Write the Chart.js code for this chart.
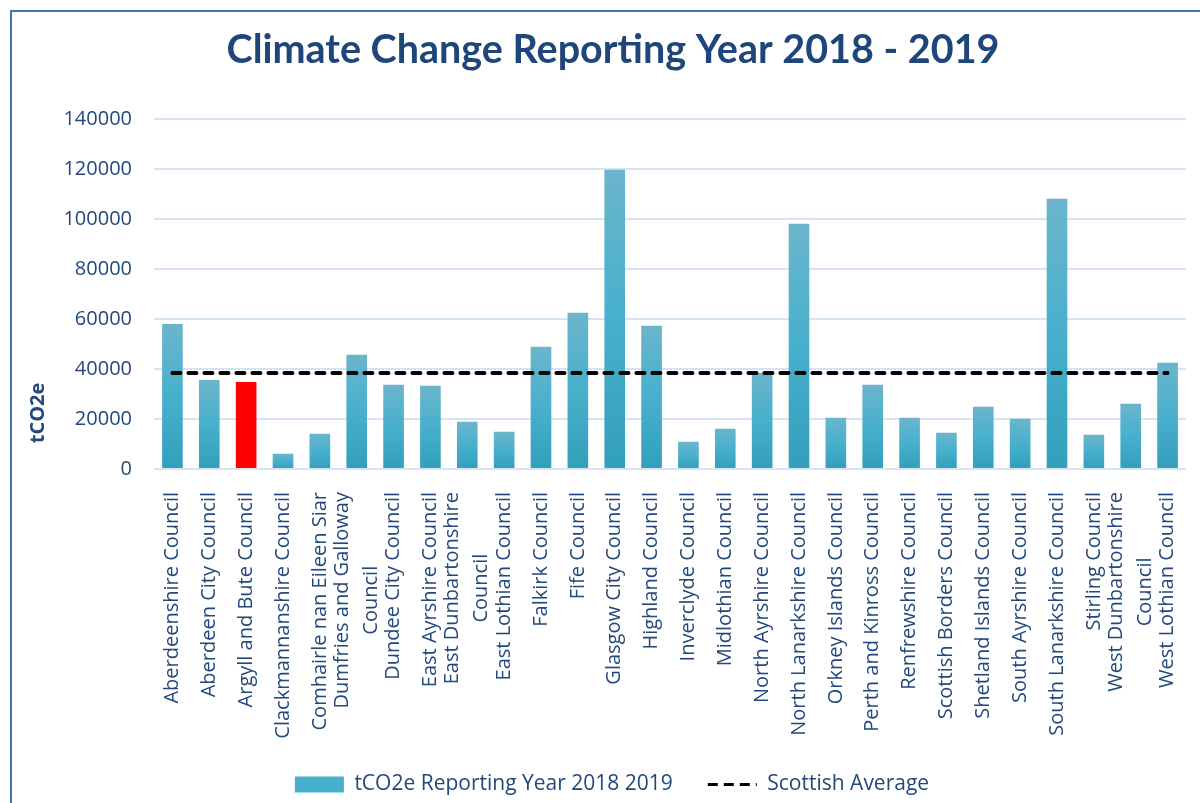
<!DOCTYPE html>
<html lang="en">
<head>
    <meta charset="UTF-8">
    <title>Climate Change Reporting Year 2018 - 2019</title>
    <script src="https://cdn.jsdelivr.net/npm/chart.js"></script>
    <style>
        body {
            margin: 0;
            background: #ffffff;
            overflow: hidden;
        }

        .frame {
            position: absolute;
            left: 10px;
            top: 10px;
            width: 1200px;
            height: 800px;
            border: 2px solid #4472a8;
            background: #ffffff;
        }
    </style>
</head>
<body>
    <div class="frame">
        <canvas id="chart" width="1200" height="800"></canvas>
    </div>

    <script>
        const chartTitle = 'Climate Change Reporting Year 2018 - 2019';

        const councils = [
            'Aberdeenshire Council', 'Aberdeen City Council', 'Argyll and Bute Council',
            'Clackmannanshire Council', 'Comhairle nan Eileen Siar',
            ['Dumfries and Galloway', 'Council'], 'Dundee City Council', 'East Ayrshire Council',
            ['East Dunbartonshire', 'Council'], 'East Lothian Council', 'Falkirk Council',
            'Fife Council', 'Glasgow City Council', 'Highland Council', 'Inverclyde Council',
            'Midlothian Council', 'North Ayrshire Council', 'North Lanarkshire Council',
            'Orkney Islands Council', 'Perth and Kinross Council', 'Renfrewshire Council',
            'Scottish Borders Council', 'Shetland Islands Council', 'South Ayrshire Council',
            'South Lanarkshire Council', 'Stirling Council', ['West Dunbartonshire', 'Council'],
            'West Lothian Council'
        ];

        const emissions = [
            58000, 35600, 34800, 6100, 14100, 45700, 33700, 33300, 18900, 14900,
            48900, 62500, 119700, 57300, 10900, 16100, 38500, 98100, 20500, 33700,
            20500, 14500, 24900, 20100, 108100, 13700, 26100, 42500
        ];

        const scottishAverage = [
            38400, 38400, 38400, 38400, 38400, 38400, 38400, 38400, 38400, 38400,
            38400, 38400, 38400, 38400, 38400, 38400, 38400, 38400, 38400, 38400,
            38400, 38400, 38400, 38400, 38400, 38400, 38400, 38400
        ];

        const highlighted = 'Argyll and Bute Council';
        const yTicks = [0, 20000, 40000, 60000, 80000, 100000, 120000, 140000];

        const theme = {
            title: '#1f467a',
            text: '#23487b',
            grid: '#d6e3f4',
            barTop: '#6bb5cc',
            barMid: '#47b0cd',
            barBottom: '#329fbb',
            highlight: '#ff0000'
        };

        Chart.defaults.font.family = "'Open Sans', sans-serif";
        Chart.defaults.color = theme.text;

        // each bar gets its own light-to-dark gradient, like the Excel original
        const barFill = (c) => {
            if (c.type !== 'data') return theme.barMid;
            if (councils[c.dataIndex] === highlighted) return theme.highlight;
            const chart = c.chart;
            const y = chart.scales.y;
            if (!chart.chartArea || !y) return theme.barMid;
            const top = y.getPixelForValue(c.raw);
            const base = y.getPixelForValue(0);
            if (!isFinite(top) || base - top < 1) return theme.barMid;
            const g = chart.ctx.createLinearGradient(0, top, 0, base);
            g.addColorStop(0, theme.barTop);
            g.addColorStop(0.5, theme.barMid);
            g.addColorStop(1, theme.barBottom);
            return g;
        };

        // Excel centres wrapped lines inside a rotated label, Chart.js doesn't,
        // so the category labels, the y title and the chart title are drawn here
        const axisText = {
            id: 'axisText',
            afterDraw(chart) {
                const ctx = chart.ctx;
                const x = chart.scales.x;
                const lineHeight = 29;
                ctx.save();
                ctx.fillStyle = theme.title;
                ctx.font = "bold 39.5px Lato, 'Open Sans', sans-serif";
                ctx.textAlign = 'center';
                ctx.textBaseline = 'alphabetic';
                ctx.fillText(chartTitle, 601, 51);

                ctx.font = "20px 'Open Sans', sans-serif";
                ctx.fillStyle = theme.text;
                ctx.textBaseline = 'middle';
                const top = chart.chartArea.bottom + 23;
                councils.forEach((label, i) => {
                    const lines = Array.isArray(label) ? label : [label];
                    const w = Math.max(...lines.map(l => ctx.measureText(l).width));
                    const cx = x.getPixelForTick(i);
                    lines.forEach((line, j) => {
                        ctx.save();
                        ctx.translate(cx + (j - (lines.length - 1) / 2) * lineHeight, top + w / 2);
                        ctx.rotate(-Math.PI / 2);
                        ctx.fillText(line, 0, 0);
                        ctx.restore();
                    });
                });

                ctx.translate(26, 401);
                ctx.rotate(-Math.PI / 2);
                ctx.font = "bold 20px 'Open Sans', sans-serif";
                ctx.fillText('tCO2e', 0, 0);
                ctx.restore();
            }
        };

        new Chart(document.getElementById('chart'), {
            data: {
                labels: councils,
                datasets: [{
                    type: 'bar',
                    label: 'tCO2e Reporting Year 2018 2019',
                    data: emissions,
                    backgroundColor: barFill,
                    barPercentage: 0.56,
                    categoryPercentage: 1,
                    order: 1
                }, {
                    type: 'line',
                    label: 'Scottish Average',
                    data: scottishAverage,
                    borderColor: '#000000',
                    borderWidth: 4,
                    borderDash: [8, 8],
                    borderCapStyle: 'round',
                    pointRadius: 0,
                    fill: false,
                    order: 0
                }]
            },
            options: {
                responsive: false,
                animation: false,
                layout: {
                    padding: { left: 26, right: 26, top: 107, bottom: 7 }
                },
                scales: {
                    x: {
                        grid: { display: false, drawTicks: false },
                        border: { display: false },
                        ticks: { display: false },
                        afterFit(scale) { scale.height = 270; }
                    },
                    y: {
                        min: 0,
                        max: 140000,
                        afterBuildTicks(scale) {
                            scale.ticks = yTicks.map(v => ({ value: v }));
                        },
                        grid: { color: theme.grid, lineWidth: 2, drawTicks: false },
                        border: { display: false },
                        ticks: {
                            padding: 22,
                            font: { size: 20 },
                            callback: v => String(v)
                        },
                        afterFit(scale) { scale.width = 116; }
                    }
                },
                plugins: {
                    title: { display: false },
                    legend: {
                        position: 'bottom',
                        labels: {
                            usePointStyle: true,
                            pointStyleWidth: 49,
                            boxHeight: 16,
                            boxWidth: 49,
                            padding: 35,
                            font: { size: 21 },
                            color: theme.text,
                            generateLabels() {
                                return [{
                                    text: 'tCO2e Reporting Year 2018 2019',
                                    fillStyle: theme.barMid,
                                    strokeStyle: 'rgba(0,0,0,0)',
                                    lineWidth: 0,
                                    pointStyle: 'rect',
                                    fontColor: theme.text,
                                    datasetIndex: 0
                                }, {
                                    text: 'Scottish Average',
                                    fillStyle: 'rgba(0,0,0,0)',
                                    strokeStyle: '#000000',
                                    lineWidth: 3,
                                    lineDash: [10, 6],
                                    pointStyle: 'line',
                                    fontColor: theme.text,
                                    datasetIndex: 1
                                }];
                            }
                        }
                    },
                    tooltip: { enabled: false }
                }
            },
            plugins: [axisText]
        });
    </script>
</body>
</html>
